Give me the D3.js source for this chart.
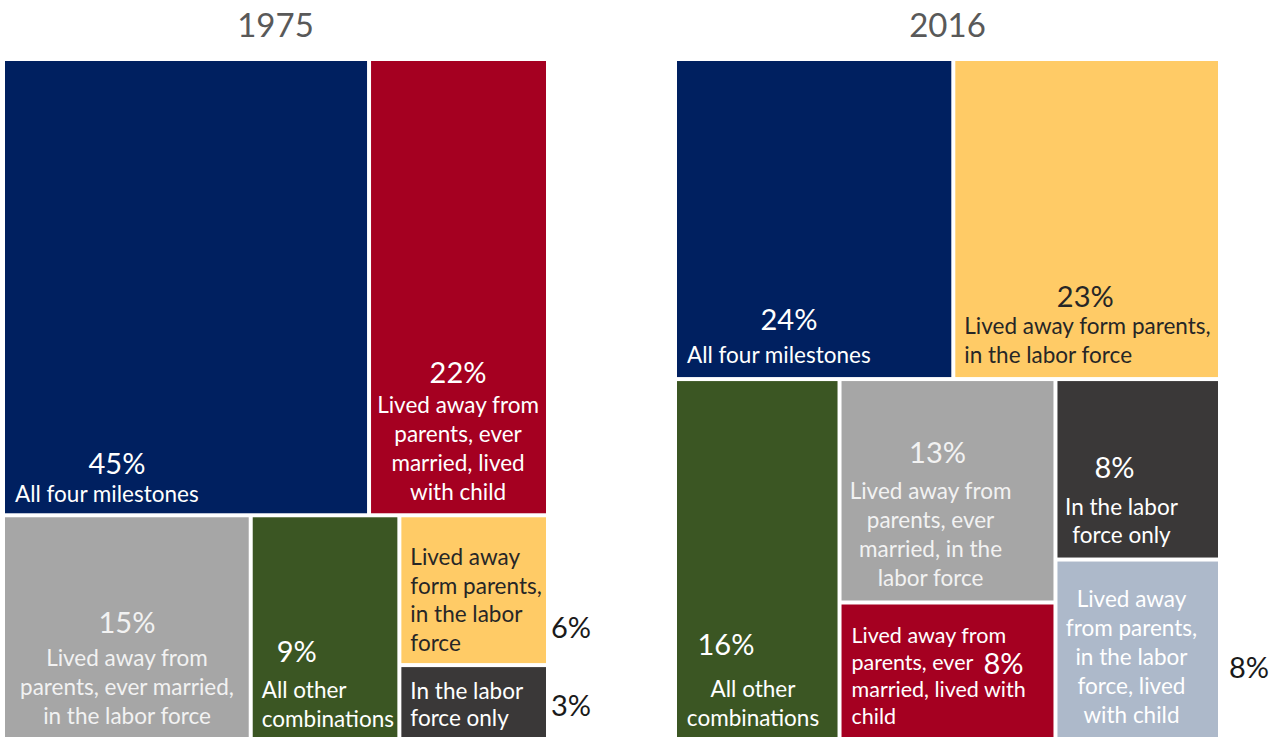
<!DOCTYPE html>
<html>
<head>
<meta charset="utf-8">
<script src="https://cdn.jsdelivr.net/npm/d3@7"></script>
<style>
  body { margin: 0; background: #fff; }
  svg { display: block; font-family: Lato, "Open Sans", sans-serif; }
</style>
</head>
<body>
<svg id="chart"></svg>
<script>
const width = 1281;
const height = 737;

// 1975 panel
const categories1975 = [
  "All four milestones",
  "Lived away from parents, ever married, lived with child",
  "Lived away from parents, ever married, in the labor force",
  "All other combinations",
  "Lived away form parents, in the labor force",
  "In the labor force only"
];
const values1975 = [45, 22, 15, 9, 6, 3];
const rows1975 = [[0, 1], [2, 3, [4, 5]]];
const lines1975 = [
  ["All four milestones"],
  ["Lived away from", "parents, ever", "married, lived", "with child"],
  ["Lived away from", "parents, ever married,", "in the labor force"],
  ["All other", "combinations"],
  ["Lived away", "form parents,", "in the labor", "force"],
  ["In the labor", "force only"]
];

// 2016 panel
const categories2016 = [
  "All four milestones",
  "Lived away form parents, in the labor force",
  "All other combinations",
  "Lived away from parents, ever married, in the labor force",
  "Lived away from parents, ever married, lived with child",
  "In the labor force only",
  "Lived away from parents, in the labor force, lived with child"
];
const values2016 = [24, 23, 16, 13, 8, 8, 8];
const rows2016 = [[0, 1], [2, [3, 4], [5, 6]]];
const lines2016 = [
  ["All four milestones"],
  ["Lived away form parents,", "in the labor force"],
  ["All other", "combinations"],
  ["Lived away from", "parents, ever", "married, in the", "labor force"],
  ["Lived away from", "parents, ever", "married, lived with", "child"],
  ["In the labor", "force only"],
  ["Lived away", "from parents,", "in the labor", "force, lived", "with child"]
];

const color = d3.scaleOrdinal()
  .domain(categories2016)
  .range(["#002060", "#FFCB66", "#3B5623", "#A6A6A6", "#A50021", "#3A3838", "#ADB9CA"]);

const textColor = (cat) => {
  if (cat === "Lived away form parents, in the labor force") return "#262626";
  if (cat === "Lived away from parents, ever married, in the labor force") return "#F2F2F2";
  return "#fff";
};

// label placement relative to each tile (top-left), "out" is relative to tile right edge
const place1975 = [
  { pct: [112, 413, "middle"], lab: [10, 441, "start"], step: 29 },
  { pct: [87, 322, "middle"], lab: [87, 352, "middle"], step: 29 },
  { pct: [122, 116, "middle"], lab: [122, 149, "middle"], step: 29 },
  { pct: [44, 145, "middle"], lab: [9, 181, "start"], step: 29 },
  { out: [5, 121], lab: [9, 48, "start"], step: 28.5 },
  { out: [5, 49], lab: [9, 32, "start"], step: 27 }
];
const place2016 = [
  { pct: [112, 269, "middle"], lab: [10, 302, "start"], step: 29 },
  { pct: [130, 246, "middle"], lab: [9, 273, "start"], step: 29 },
  { pct: [49, 274, "middle"], lab: [76, 316, "middle"], step: 28.5 },
  { pct: [96, 82, "middle"], lab: [89, 118, "middle"], step: 29 },
  { pct: [162, 69, "middle"], lab: [10, 38, "start"], step: 27.3, small: true },
  { pct: [57, 97, "middle"], lab: [64, 134, "middle"], step: 28 },
  { out: [11, 116], lab: [74, 45, "middle"], step: 29 }
];

const svg = d3.select("#chart").attr("width", width).attr("height", height);

const tile = (node, x0, y0, x1, y1) =>
  (node.depth % 2 === 0 ? d3.treemapSlice : d3.treemapDice)(node, x0, y0, x1, y1);

function buildTree(rows, categories, values, lines) {
  const leaf = (i) => ({ name: categories[i], value: values[i], lines: lines[i], index: i });
  return {
    children: rows.map((row) => ({
      children: row.map((item) =>
        Array.isArray(item) ? { children: item.map(leaf) } : leaf(item))
    }))
  };
}

function drawPanel(title, x, rows, categories, values, lines, place) {
  const panelW = 541;
  const panelH = 677;
  const top = 61;

  svg.append("text")
    .attr("x", x + panelW / 2)
    .attr("y", 37)
    .attr("text-anchor", "middle")
    .attr("fill", "#595959")
    .style("font-size", "33px")
    .text(title);

  const root = d3.hierarchy(buildTree(rows, categories, values, lines)).sum((d) => d.value || 0);
  d3.treemap().tile(tile).size([panelW, panelH]).paddingInner(4)(root);

  const g = svg.append("g").attr("transform", `translate(${x},${top})`);

  const cell = g.selectAll("g")
    .data(root.leaves())
    .enter()
    .append("g")
    .attr("transform", (d) => `translate(${d.x0},${d.y0})`);

  cell.append("rect")
    .attr("width", (d) => d.x1 - d.x0)
    .attr("height", (d) => d.y1 - d.y0)
    .attr("fill", (d) => color(d.data.name));

  cell.each(function (d) {
    const p = place[d.data.index];
    const c = d3.select(this);
    const fill = textColor(d.data.name);
    if (p.pct) {
      c.append("text")
        .attr("x", p.pct[0])
        .attr("y", p.pct[1])
        .attr("text-anchor", p.pct[2])
        .attr("fill", fill)
        .style("font-size", "29px")
        .text(d.data.value + "%");
    } else {
      c.append("text")
        .attr("x", d.x1 - d.x0 + p.out[0])
        .attr("y", p.out[1])
        .attr("fill", "#1a1a1a")
        .style("font-size", "29px")
        .text(d.data.value + "%");
    }
    c.append("text")
      .attr("text-anchor", p.lab[2])
      .attr("fill", fill)
      .style("font-size", p.small ? "21.5px" : "22.5px")
      .selectAll("tspan")
      .data(d.data.lines)
      .enter()
      .append("tspan")
      .attr("x", p.lab[0])
      .attr("y", (t, i) => p.lab[1] + i * p.step)
      .text((t) => t);
  });
}

drawPanel("1975", 5, rows1975, categories1975, values1975, lines1975, place1975);
drawPanel("2016", 677, rows2016, categories2016, values2016, lines2016, place2016);
</script>
</body>
</html>
